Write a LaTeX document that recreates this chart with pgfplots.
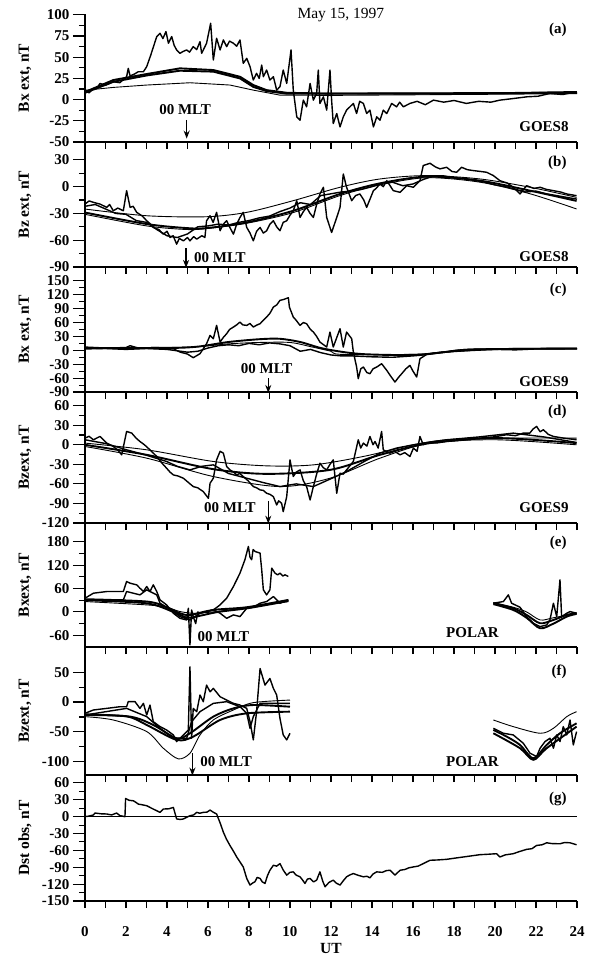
\documentclass[border=0pt]{standalone}
\usepackage{fontspec}
\setmainfont{Liberation Serif}
\usepackage{pgfplots}
\pgfplotsset{compat=1.18}
\usetikzlibrary{arrows.meta}
\newcommand{\tf}{\fontsize{15}{17}\selectfont\bfseries}
\tikzset{arr/.style={-{Stealth[length=8pt,width=6pt]}, line width=1.3pt}}
\pgfplotsset{
 panel/.style={
  scale only axis, width=492pt, xmin=0, xmax=24,
  axis x line*=bottom, axis y line*=left, axis line style={-, line width=1.1pt},
  tick align=outside, xtick={0,2,...,24}, minor x tick num=1,
  xticklabels={},
  major tick length=12pt, minor tick length=6pt,
  xtick style={/pgfplots/major tick length=7pt,/pgfplots/minor tick length=7pt, line width=1.1pt, black},
  ytick style={line width=1.1pt, black},
  minor y tick num=1,
  tick label style={font=\tf},
  /pgf/number format/assume math mode=true,
  ylabel style={at={(axis description cs:-0.122,0.5)}, anchor=center, font=\fontsize{15.5}{17}\selectfont\bfseries},
  clip mode=individual,
  every axis plot/.append style={black, line join=round},
 },
 obs/.style={line width=1.4pt},
 mthick/.style={line width=1.9pt},
 mthin/.style={line width=0.9pt},
}
\begin{document}
\begin{tikzpicture}
\path[use as bounding box] (-85pt,14pt) rectangle (517pt,-945pt);
% ---------------- (a)
\begin{axis}[panel, at={(0pt,0pt)}, anchor=north west, height=128pt,
  ymin=-50, ymax=101, ytick={-50,-25,...,100}, ylabel={Bx ext, nT}]
\addplot[obs] coordinates {(0,11.2)(0.2,8)(0.41,13.2)(0.6,14)(0.73,19.1)(1.0,17)(1.38,21.1)(1.7,20)(2.03,27)(2.11,36.9)(2.2,28)(2.4,30)(2.6,32.9)(2.85,32.9)(3.01,38.9)(3.2,52)(3.5,74.4)(3.66,78.3)(3.8,72)(3.95,80.3)(4.07,66.5)(4.23,74.4)(4.35,64)(4.47,58.6)(4.63,54.6)(4.8,57)(4.96,58.6)(5.1,56)(5.28,62.5)(5.45,59)(5.61,68.4)(5.69,54.6)(5.8,60)(5.93,66.5)(6.13,90.1)(6.26,46.7)(6.42,72.4)(6.59,58.6)(6.75,70.4)(6.91,62.5)(7.05,69)(7.24,66.5)(7.4,63)(7.56,70.4)(7.72,42.8)(7.89,48.7)(8.05,38.9)(8.21,23.1)(8.37,31)(8.5,25)(8.62,40.8)(8.7,27)(8.86,34.9)(9.02,23.1)(9.19,27)(9.35,11.2)(9.51,15.2)(9.67,34.9)(9.84,19.1)(10.05,58.6)(10.16,11.2)(10.33,-20.3)(10.49,-24.3)(10.65,-0.6)(10.81,-8.5)(10.98,19.1)(11.14,-0.6)(11.3,7.3)(11.38,34.9)(11.46,-4.5)(11.63,3.3)(11.79,-12.4)(11.95,34.9)(12.03,-0.6)(12.11,-28.2)(12.28,-16.4)(12.44,-32.2)(12.6,-20.3)(12.76,-12.4)(13.09,-4.5)(13.25,-16.4)(13.4,-2)(13.58,-4.5)(13.74,-16.4)(13.9,-12.4)(14.07,-32.2)(14.23,-20.3)(14.39,-24.3)(14.55,-12.4)(14.72,-16.4)(14.96,-4.5)(15.2,-8.5)(15.35,-3)(15.53,-8.5)(15.85,-4.5)(16.2,-2)(16.6,-6)(17.0,-0.6)(17.5,-3)(18.0,-1)(18.6,-4.5)(19.2,-2)(19.8,-3)(20.24,-0.6)(20.8,1)(21.55,3.3)(22.1,4)(22.68,7.3)(23.3,6)(23.98,9.3)};
\addplot[mthick] coordinates {(0,9)(1.38,23.1)(3.01,30.2)(4.63,36.9)(6.26,34.9)(7.56,27)(8.21,17.2)(8.86,11.2)(9.84,8.1)(12,7)(16,7)(20,7.5)(24,9)};
\addplot[mthick] coordinates {(0,8)(1.38,21)(3.01,28.5)(4.63,34.1)(6.26,33)(7.56,25)(8.21,15)(8.86,10)(9.84,7)(24,8)};
\addplot[mthin] coordinates {(0,11)(1.38,14.4)(3.01,17.2)(5.12,19.9)(7.07,17.2)(8.21,11.2)(9.51,5.3)(12,5)(24,7)};
\node[font=\fontsize{15.5}{17}\selectfont] at (rel axis cs:0.52,0.99) {May 15, 1997};
\node[anchor=east, font=\tf] at (rel axis cs:0.986,0.875) {(a)};
\node[anchor=east, font=\tf] at (rel axis cs:0.99,0.117) {GOES8};
\node[font=\tf] at (axis cs:4.88,-12) {00 MLT};
\draw[arr] (axis cs:4.96,-24) -- (axis cs:4.96,-46);
\end{axis}
% ---------------- (b)
\begin{axis}[panel, at={(0pt,-128pt)}, anchor=north west, height=125pt,
  ymin=-90, ymax=50, ytick={-90,-60,...,30}, ylabel={Bz ext, nT}]
\addplot[obs] coordinates {(0,-19.5)(0.2,-16)(0.41,-17.6)(0.73,-19.5)(1.06,-23.2)(1.2,-20)(1.38,-27)(1.6,-24)(1.87,-27)(2.03,-4.5)(2.2,-23.2)(2.35,-22)(2.52,-28.8)(2.8,-33)(3.01,-38.2)(3.2,-42)(3.33,-45.7)(3.6,-48)(3.82,-53.2)(4.0,-50)(4.15,-56.9)(4.3,-55)(4.47,-64.4)(4.6,-58)(4.8,-60.7)(5.0,-57)(5.12,-60.7)(5.3,-56)(5.45,-58.8)(5.7,-55)(5.85,-56.9)(5.93,-38.2)(6.1,-32.6)(6.25,-40)(6.42,-28.8)(6.59,-49.4)(6.75,-42)(6.91,-38.2)(7.05,-45)(7.24,-53.2)(7.4,-42)(7.56,-34.5)(7.72,-28.8)(7.89,-45.7)(8.05,-52)(8.21,-60.7)(8.37,-50)(8.54,-45.7)(8.7,-52)(8.86,-49.4)(9.02,-42)(9.19,-38.2)(9.35,-45)(9.51,-49.4)(9.67,-40)(9.84,-38.2)(10.0,-32)(10.16,-27)(10.33,-15.7)(10.49,-34.5)(10.65,-28)(10.81,-23.2)(10.98,-30)(11.14,-34.5)(11.3,-20)(11.46,-8.2)(11.63,-0.7)(11.79,-34.5)(12.03,-51.3)(12.28,-34.5)(12.44,-23.2)(12.6,14.2)(12.76,-0.7)(13.01,-15.7)(13.2,-10)(13.41,-8.2)(13.6,-15)(13.74,-23.2)(14.07,-4.5)(14.2,-2)(14.39,3)(14.55,0)(14.72,6.7)(15.04,-4.5)(15.37,-6.4)(15.69,1.1)(16.02,-0.7)(16.34,6.7)(16.5,23.6)(16.83,26.2)(17.1,22)(17.32,19.9)(17.64,21.7)(17.9,17)(18.13,16.1)(18.37,21.7)(18.65,19)(18.94,18)(19.3,17)(19.59,16.1)(19.92,12.4)(20.24,6.7)(20.6,4)(20.89,-0.7)(21.22,-8.2)(21.54,1.1)(21.9,-2)(22.2,-0.7)(22.5,-3)(22.85,-4.5)(23.2,-6)(23.5,-8.2)(23.98,-10.1)};
\addplot[obs] coordinates {(0,-22)(0.5,-20)(1,-25)(1.5,-30)(2,-31)(2.5,-38)(3,-40)(3.5,-48)(4,-55)(4.5,-57)(5,-53)(5.5,-45)(6,-44)(6.5,-42)(7,-43)(7.5,-40)(8,-38)(8.5,-35)(9,-33)(9.5,-28)(10,-24)(10.5,-18)(11,-20)(11.5,-10)(12,-8)(12.5,-6)(13,-5)(13.5,-3)(14,0)(14.5,4)(15,5)(15.5,1)(16,3)(16.5,8)(17,12)(17.5,12)(18,10)(18.5,9)(19,7)(19.5,5)(20,2)(20.5,0)(21,-3)(21.5,-6)(22,-5)(22.5,-8)(23,-10)(23.5,-12)(24,-14)};
\addplot[mthin, smooth] coordinates {(0,-25.1)(3.01,-32.6)(5.93,-33.7)(7.89,-28.8)(10.16,-15.7)(12.44,-0.7)(14.39,8.6)(16.67,12.4)(19.27,8.6)(21.71,-0.7)(23.98,-12)};
\addplot[mthick, smooth] coordinates {(0,-29)(3.01,-41.9)(4.96,-46.4)(5.93,-46.4)(7.89,-40.1)(10.16,-27)(12.44,-8.2)(14.39,3.7)(16.67,11.2)(19.27,6.7)(21.71,-4.5)(23.98,-16)};
\addplot[mthin, smooth] coordinates {(0,-31)(3.01,-44)(4.96,-48)(5.93,-47)(7.89,-41)(10.16,-29)(12.44,-10)(14.39,2)(16.67,10)(19.27,5)(21.71,-8)(23.98,-25)};
\node[anchor=east, font=\tf] at (rel axis cs:0.986,0.83) {(b)};
\node[anchor=east, font=\tf] at (rel axis cs:0.99,0.08) {GOES8};
\node[anchor=west, font=\tf] at (axis cs:5.15,-80) {00 MLT};
\draw[arr] (axis cs:4.93,-69) -- (axis cs:4.93,-91);
\end{axis}
% ---------------- (c)
\begin{axis}[panel, at={(0pt,-253pt)}, anchor=north west, height=125pt,
  ymin=-90, ymax=180, ytick={-90,-60,...,150}, ylabel={Bx ext, nT}]
\addplot[obs] coordinates {(0,7.1)(1,5)(2,6)(2.2,10)(2.6,5)(3.5,6)(4.31,3.5)(4.63,-3.7)(5.0,-8)(5.28,-15.9)(5.61,-7.3)(5.93,14.3)(6.1,32.3)(6.26,25.1)(6.42,53.9)(6.59,17.9)(6.75,28)(6.91,35.9)(7.05,45)(7.24,50.3)(7.4,55)(7.56,61.1)(7.7,55)(7.89,53.9)(8.05,58)(8.21,50.3)(8.4,55)(8.54,57.5)(8.7,65)(8.86,71.9)(9.02,80)(9.19,93.5)(9.35,98)(9.51,107.9)(9.7,110)(9.92,113.7)(9.97,93.5)(10.16,71.9)(10.3,65)(10.49,53.9)(10.65,60)(10.81,57.5)(11.0,45)(11.14,39.5)(11.3,30)(11.46,17.9)(11.79,7.1)(11.95,39.5)(12.11,7.1)(12.44,46.7)(12.6,7.1)(12.76,39.5)(13.01,25.1)(13.09,-3.7)(13.25,-36.1)(13.33,-61.3)(13.45,-40)(13.58,-36.1)(13.75,-48)(13.9,-50.5)(14.05,-40)(14.23,-36.1)(14.47,-28.9)(14.72,-43.3)(14.9,-55)(15.12,-68.5)(15.3,-58)(15.45,-50.5)(15.65,-40)(15.85,-32.5)(16.0,-45)(16.18,-57.7)(16.34,-18.1)(16.67,-8.7)(17.64,-3.7)(19.27,1.4)(20.89,3.5)(23.98,3.5)};
\addplot[obs] coordinates {(0,3)(1,4)(2,2)(3,4)(4,2)(4.5,-1)(5,-4)(5.5,-2)(6,5)(6.5,10)(7,12)(7.5,10)(8,15)(8.5,12)(9,16)(9.5,14)(10,10)(10.5,-2)(11,2)(11.5,-5)(12,-10)(12.5,-12)(13,-12)(14,-14)(15,-15)(16,-12)(16.5,-10)(17,-6)(18,-2)(19,0)(20,2)(21,1)(22,3)(24,3)};
\addplot[mthick, smooth] coordinates {(0,5)(4,5)(5.5,8)(7,18)(8.5,24)(9.5,25)(10.5,18)(11.5,5)(12.5,-3)(13.5,-8)(15,-10)(16.5,-9)(17.5,-4)(19,2)(24,4)};
\addplot[mthin, smooth] coordinates {(0,6)(5,7)(7,14)(8.5,17)(10,17)(11,8)(12,-2)(12.5,-8.7)(16,-8.7)(17.5,-3)(19,3)(24,5)};
\node[anchor=east, font=\tf] at (rel axis cs:0.986,0.816) {(c)};
\node[anchor=east, font=\tf] at (rel axis cs:0.99,0.08) {GOES9};
\node[font=\tf] at (axis cs:8.86,-40) {00 MLT};
\draw[arr] (axis cs:8.94,-60) -- (axis cs:8.94,-92);
\end{axis}
% ---------------- (d)
\begin{axis}[panel, at={(0pt,-378pt)}, anchor=north west, height=131pt,
  ymin=-120, ymax=81, ytick={-120,-90,...,60}, ylabel={Bzext, nT}]
\addplot[obs] coordinates {(0,10.3)(0.2,13)(0.41,7.7)(0.73,12.8)(1.06,2.6)(1.38,-2.6)(1.6,-8)(1.79,-15.4)(2.03,20.5)(2.28,17.9)(2.5,10)(2.68,5.1)(2.9,0)(3.17,-7.7)(3.5,-17.9)(3.75,-28)(3.98,-35.9)(4.15,-42)(4.31,-46.2)(4.55,-48)(4.8,-51.3)(5.05,-58)(5.28,-64.1)(5.5,-66)(5.77,-71.8)(6.02,-82.1)(6.1,-59)(6.26,-51.3)(6.42,-23.1)(6.59,-10)(6.75,-12.8)(6.91,-33.3)(7.07,-38.5)(7.25,-42)(7.4,-46.2)(7.55,-44)(7.72,-48.7)(7.95,-55)(8.21,-64.1)(8.37,-66)(8.54,-69.2)(8.7,-70)(8.86,-74.4)(9.02,-76)(9.19,-79.5)(9.35,-92.3)(9.45,-86)(9.59,-89.7)(9.67,-102.6)(9.84,-79.5)(10.0,-23.1)(10.16,-48.7)(10.3,-42)(10.49,-38.5)(10.65,-55)(10.81,-64.1)(10.98,-84.6)(11.14,-64.1)(11.3,-45)(11.46,-28.2)(11.62,-35)(11.79,-38.5)(11.95,-30)(12.11,-23.1)(12.28,-74.4)(12.44,-43.6)(12.6,-45)(12.76,-38.5)(13.09,-25.6)(13.33,7.7)(13.45,-5)(13.58,2.6)(13.75,-2)(13.9,12.8)(14.05,0)(14.15,5.1)(14.3,-5)(14.47,20.5)(14.55,-7.7)(14.88,-12.8)(15.1,-10)(15.37,-15.4)(15.6,-12)(15.85,-17.9)(16.02,-5.1)(16.2,-10)(16.34,12.8)(16.5,0)(16.67,2.6)(17.2,3)(17.64,5.1)(18.4,7)(19.27,10.3)(19.9,12)(20.57,15.4)(21.0,14)(21.38,17.9)(21.7,18)(21.85,24)(22.03,28.2)(22.2,20)(22.36,23.1)(22.6,16)(22.85,12.8)(23.4,10)(23.98,7.7)};
\addplot[obs] coordinates {(0,7.7)(1,2)(2.03,-7.7)(3,-16)(3.98,-25.6)(4.5,-33)(5.12,-38.5)(5.7,-33)(6.26,-30.8)(7,-44)(7.89,-51.3)(8.7,-58)(9.51,-64.1)(10.3,-60)(11.14,-64.1)(12,-52)(12.76,-41)(13.6,-26)(14.39,-12.8)(15.2,-5)(16.02,0)(16.8,4)(17.64,7.7)(19.2,12)(20.89,17.9)(22.4,12)(23.98,3.6)};
\addplot[mthin, smooth] coordinates {(0,2.6)(3.01,-7.7)(6.26,-25.6)(8.86,-32.3)(11.14,-30.8)(13.58,-17.9)(16.02,0)(17.64,7.7)(20.08,10.3)(23.98,10.3)};
\addplot[mthick, smooth] coordinates {(0,0)(3.01,-15.4)(6.26,-37.4)(8.86,-44.6)(11.95,-38.5)(14.39,-15.4)(16.83,2.6)(20.08,10.3)(23.98,2.6)};
\addplot[mthin, smooth] coordinates {(0,-2.6)(3.01,-20.5)(6.26,-48.7)(9.51,-64.1)(11.95,-51.3)(14.39,-20.5)(16.83,2.6)(20.08,7.7)(23.98,0)};
\node[anchor=east, font=\tf] at (rel axis cs:0.986,0.85) {(d)};
\node[anchor=east, font=\tf] at (rel axis cs:0.99,0.12) {GOES9};
\node[font=\tf] at (axis cs:7.07,-97) {00 MLT};
\draw[arr] (axis cs:8.94,-86) -- (axis cs:8.94,-121);
\end{axis}
% ---------------- (e)
\begin{axis}[panel, at={(0pt,-509pt)}, anchor=north west, height=124pt,
  ymin=-90, ymax=228, ytick={-60,0,...,180}, ylabel={Bxext, nT}]
\addplot[obs] coordinates {(0,35.1)(0.41,48)(1.06,52.3)(1.87,52.3)(2.03,78)(2.2,73.7)(2.52,69.4)(2.68,60.8)(2.85,52.3)(3.01,65.1)(3.17,52.3)(3.33,69.4)(3.5,52.3)(3.66,30.8)(3.98,18)(4.31,-3.4)(4.63,-16.3)(4.96,-20.6)(5.04,9.4)(5.12,-84.8)(5.2,5)(5.28,-12)(5.4,-30)(5.5,0)(5.61,-3.4)(6.26,5.1)(6.59,18)(6.91,35.1)(7.24,65.1)(7.56,99.4)(7.8,133.7)(7.97,167.9)(8.05,140)(8.13,133.7)(8.2,160)(8.29,155.1)(8.54,150.8)(8.62,108)(8.7,56.6)(8.86,43.7)(9.02,56.6)(9.11,112.3)(9.27,99.4)(9.4,95)(9.51,99.4)(9.65,92)(9.76,95.1)(9.92,90.8)};
\addplot[obs] coordinates {(0,30.8)(1.87,30.8)(2.03,52.3)(2.68,43.7)(3.01,56.6)(3.5,43.7)(3.66,22.3)(4.31,1)(4.63,-12)(5.12,-20.6)(5.61,-3.4)(6.26,5.1)(6.59,-3.4)(6.91,-16.3)(7.24,-7.7)(7.56,-12)(7.89,9.4)(8.21,12)(8.54,22.3)(8.86,26.6)(9.19,39.4)(9.51,22.3)(9.92,30.8)};
\addplot[mthick, smooth] coordinates {(0,32.6)(3.01,26.6)(3.98,12)(4.63,-3.4)(5.12,-7.7)(6.26,5.1)(7.89,12)(9.92,30.8)};
\addplot[mthin, smooth] coordinates {(0,26.6)(3.01,18)(3.98,12)(4.63,1)(5.45,-3.4)(7.07,5.1)(9.92,26.6)};
\addplot[mthick, smooth] coordinates {(0,30)(3.01,22)(4.31,0)(5.0,-15)(5.6,-10)(6.5,0)(8,10)(9.92,28)};
\addplot[obs] coordinates {(19.92,22.3)(20.41,26.6)(20.65,43.7)(20.81,22.3)(21.22,12)(21.54,-12)(21.87,-29.1)(22.2,-37.7)(22.52,-33.4)(22.68,-20.6)(22.85,22.3)(23.01,-12)(23.17,82.3)(23.25,-12)(23.5,-3.4)(23.66,0.8)(23.98,-3.4)};
\addplot[mthick, smooth] coordinates {(19.92,22.3)(20.89,9.4)(21.54,-7.7)(22.2,-29.1)(22.85,-20.6)(23.5,-7.7)(23.98,-3.4)};
\addplot[mthick, smooth] coordinates {(19.92,20)(20.89,5)(21.54,-15)(22.2,-42)(22.85,-30)(23.5,-12)(23.98,-5)};
\addplot[mthin, smooth] coordinates {(19.92,24)(20.89,12)(21.54,0)(22.2,-20.6)(22.85,-15)(23.98,-3)};
\node[anchor=east, font=\tf] at (rel axis cs:0.986,0.84) {(e)};
\node[font=\tf] at (axis cs:18.9,-54) {POLAR};
\node[font=\tf] at (axis cs:6.75,-63) {00 MLT};
\end{axis}
% ---------------- (f)
\begin{axis}[panel, at={(0pt,-633pt)}, anchor=north west, height=128pt,
  ymin=-122, ymax=92, ytick={-100,-50,0,50}, ylabel={Bzext, nT}]
\addplot[obs] coordinates {(0,-18.9)(0.41,-13.3)(1.06,-10.6)(1.71,-7.8)(2.03,-7.8)(2.11,0.6)(2.44,0.6)(2.68,-10.6)(2.85,-2.2)(3.01,-21.7)(3.17,-5)(3.33,-32.8)(3.66,-41.1)(3.98,-46.7)(4.31,-55)(4.47,-66.1)(4.8,-55)(5.04,-46.7)(5.12,58.9)(5.2,-60.6)(5.28,-10.6)(5.45,-16.1)(5.61,11.7)(5.77,0.6)(5.93,28.3)(6.1,17.2)(6.26,22.8)(6.59,8.9)(6.91,3.3)(7.24,-2.2)(7.56,-5)(7.89,-10.6)(8.05,-32.8)(8.21,-63.3)(8.37,-16.1)(8.54,56.1)(8.78,28.3)(9.02,39.4)(9.19,22.8)(9.35,11.7)(9.51,-27.2)(9.67,-55)(9.84,-63.3)(10.0,-52.2)};
\addplot[obs] coordinates {(0,-21.7)(2.03,-10.6)(3.01,-24.4)(3.66,-43.9)(4.31,-60.6)(4.96,-60.6)(5.2,-32.8)(5.61,-16.1)(6.26,-2.2)(6.91,0.6)(7.56,-7.8)(7.89,-18.9)(8.05,-43.9)(8.21,-24.4)(8.54,-2.2)(9.19,-2.2)(10.0,-2.2)};
\addplot[mthick, smooth] coordinates {(0,-20.6)(2.2,-24.4)(3.33,-38.3)(4.47,-60.6)(5.12,-52.2)(6.26,-24.4)(7.24,-10.6)(8.21,-5)(10,-7.8)};
\addplot[mthick, smooth] coordinates {(0,-21.7)(2.03,-24)(3.01,-38.3)(4.47,-63.3)(5.28,-57.8)(6.59,-30)(7.89,-18.9)(10,-16.1)};
\addplot[mthin, smooth] coordinates {(0,-24.4)(1.38,-30)(3.01,-49.4)(3.82,-77.2)(4.55,-95)(5.12,-85.6)(5.61,-55)(6.26,-30)(7.24,-13.3)(8.21,-1)(10,3.3)};
\addplot[mthin, smooth] coordinates {(19.92,-30)(20.89,-41.1)(22.2,-52.2)(22.85,-43.9)(23.5,-24.4)(23.98,-16.1)};
\addplot[mthick, smooth] coordinates {(19.92,-46.7)(20.57,-57.8)(21.22,-71.7)(21.87,-93.9)(22.52,-71.7)(23.17,-52.2)(23.98,-35.6)};
\addplot[mthick, smooth] coordinates {(19.92,-52.2)(21.22,-77.2)(21.87,-96.7)(22.52,-77.2)(23.98,-41.1)};
\addplot[obs] coordinates {(19.92,-43.9)(20.41,-52.2)(20.89,-55)(21.38,-68.9)(21.71,-85.6)(22.03,-91.1)(22.2,-77.2)(22.44,-66.1)(22.68,-60.6)(22.85,-77.2)(23.01,-55)(23.17,-66.1)(23.33,-41.1)(23.5,-55)(23.66,-30)(23.82,-71.7)(23.98,-49.4)};
\node[anchor=east, font=\tf] at (rel axis cs:0.986,0.81) {(f)};
\node[font=\tf] at (axis cs:18.9,-99.5) {POLAR};
\node[anchor=west, font=\tf] at (axis cs:5.45,-99.5) {00 MLT};
\draw[arr] (axis cs:5.24,-86) -- (axis cs:5.24,-123);
\end{axis}
% ---------------- (g)
\begin{axis}[panel, at={(0pt,-761pt)}, anchor=north west, height=126pt,
  ymin=-150, ymax=74, ytick={-150,-120,...,60}, ylabel={Dst obs, nT},
  xticklabels={0,2,4,6,8,10,12,14,16,18,20,22,24}, xlabel={UT},
  xticklabel style={yshift=-10pt},
  xlabel style={font=\fontsize{15.5}{17}\selectfont\bfseries}]
\addplot[line width=1.2pt] coordinates {(0,0)(24,0)};
\addplot[obs] coordinates {(0,0)(0.2,1)(0.41,3)(0.49,6.4)(0.8,5)(1.06,4.7)(1.3,3)(1.54,6.4)(1.71,1.7)(1.95,0)(1.98,32.3)(2.15,29)(2.36,28.2)(2.5,25)(2.6,22.3)(2.8,21)(3.01,19.4)(3.3,14)(3.66,7.6)(3.82,13.5)(4.1,14)(4.31,16.4)(4.47,-4.1)(4.65,-5)(4.8,-4.1)(5.12,1.7)(5.3,3)(5.45,7.6)(5.6,6)(5.77,7.6)(5.95,8)(6.1,11.7)(6.25,8)(6.42,4.7)(6.6,-12)(6.75,-27.7)(6.9,-40)(7.07,-51.2)(7.25,-62)(7.4,-71.7)(7.55,-80)(7.72,-89.4)(7.89,-109.9)(8.05,-121.7)(8.18,-118)(8.29,-115.8)(8.4,-108)(8.54,-109.9)(8.65,-116)(8.78,-118.8)(8.9,-105)(9.02,-95.3)(9.19,-86.5)(9.35,-88)(9.51,-83.5)(9.67,-95)(9.84,-104)(10.0,-99)(10.16,-98.2)(10.3,-104)(10.49,-107)(10.6,-112)(10.73,-118.8)(10.85,-111)(10.98,-110)(11.15,-116)(11.3,-112.9)(11.46,-98.2)(11.6,-115)(11.71,-124.7)(11.9,-117)(12.11,-112.9)(12.25,-118)(12.44,-121.7)(12.6,-114)(12.76,-107)(12.9,-104)(13.09,-101.1)(13.3,-104)(13.58,-107)(13.75,-106)(13.9,-108.8)(14.05,-102)(14.23,-98.2)(14.5,-99)(14.7,-96)(14.88,-95.3)(15.12,-104)(15.37,-95.3)(15.6,-94)(15.8,-91)(16.02,-89.4)(16.25,-88)(16.5,-83.5)(16.83,-77.6)(17.2,-77)(17.64,-75.9)(18.0,-74)(18.46,-71.7)(18.8,-70)(19.27,-67.6)(19.6,-67)(20.08,-65.9)(20.24,-71.7)(20.5,-68)(20.89,-65.9)(21.2,-62)(21.54,-58.2)(21.8,-57)(22.03,-51.2)(22.3,-50)(22.52,-46.5)(22.8,-48)(23.17,-48.2)(23.4,-46)(23.66,-46.5)(23.98,-50)};
\node[anchor=east, font=\tf] at (rel axis cs:0.986,0.81) {(g)};
\end{axis}
\end{tikzpicture}
\end{document}
